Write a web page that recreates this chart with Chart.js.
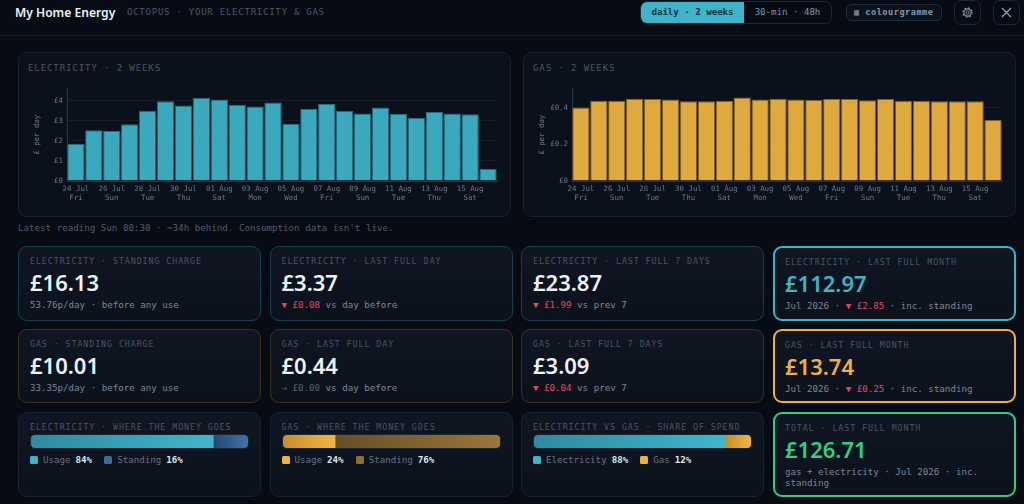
<!DOCTYPE html>
<html>
<head>
<meta charset="utf-8">
<title>My Home Energy</title>
<script src="https://cdn.jsdelivr.net/npm/chart.js@4/dist/chart.umd.min.js"></script>
<style>
* { box-sizing: border-box; }
html, body { margin: 0; width: 1024px; height: 504px; overflow: hidden; background: #070b13; }
body { position: relative; font-family: "DejaVu Sans Mono", monospace; color: #6b7686; }
.abs { position: absolute; white-space: nowrap; }
header { position: absolute; left: 0; top: 0; width: 1024px; height: 36px; border-bottom: 1px solid #141c27; }
.title { left: 15px; top: 3px; font: 600 12.1px/20px "Noto Sans"; color: #eef2f7; }
.subtitle { left: 127px; top: 5px; font-size: 9.2px; line-height: 14px; letter-spacing: .65px; color: #4c5666; }
.seg { left: 640px; top: 1px; width: 192px; height: 23px; border: 1px solid #1c2734; border-radius: 7px; display: flex; overflow: hidden; font-size: 9.1px; line-height: 21px; text-align: center; }
.seg .on { width: 103px; background: #3fb3c8; color: #0a3540; font-weight: 600; }
.seg .off { flex: 1; color: #8a95a5; }
.cg { left: 846px; top: 4px; width: 96px; height: 17px; border: 1px solid #1f2b3a; border-radius: 5px; background: #0c121c; font-size: 8.6px; font-weight: 600; letter-spacing: .5px; line-height: 15px; padding-left: 7px; color: #8a95a5; }
.icon { top: 0; width: 27px; height: 25px; border: 1px solid #1c2734; border-radius: 7px; }
.panel { position: absolute; top: 52px; width: 493px; height: 165px; background: #0b111a; border: 1px solid #18222e; border-radius: 9px; }
.panel h3 { position: absolute; left: 9px; top: 8px; margin: 0; font-weight: 400; font-size: 9.2px; line-height: 14px; letter-spacing: .8px; color: #4a5462; }
.panel .plot { position: absolute; left: 0; top: 27px; width: 491px; height: 136px; }
.note { left: 18px; top: 221px; font-size: 9.18px; line-height: 14px; color: #535c68; }
.card { position: absolute; width: 243px; background: linear-gradient(180deg, #0f1622, #0c121c); border: 1px solid #18222e; border-radius: 9px; padding: 7px 11px; }
.card .k { font-size: 8.3px; letter-spacing: .93px; line-height: 14px; color: #4a5462; white-space: nowrap; }
.card .v { font: 600 22px/28px "Noto Sans"; color: #eef2f7; margin-top: 0; }
.card .s { font-size: 9.17px; line-height: 11px; color: #7b8696; margin-top: 3px; }
.down { color: #e2475c; }
.flat { color: #566172; }
.hl { border-width: 2px; padding: 7px 10px; }
.bar { position: absolute; left: 11px; top: 21px; width: 219px; height: 15px; border: 1px solid #1c2734; border-radius: 5px; overflow: hidden; }
.bar canvas { display: block; }
.lg { position: absolute; left: 11px; top: 40px; font-size: 9.17px; line-height: 14px; color: #667183; display: flex; white-space: nowrap; }
.lg span.i { display: inline-flex; align-items: center; margin-right: 12px; }
.lg b { color: #dfe5ec; margin-left: 5px; }
.lg i { width: 8px; height: 8px; border-radius: 1.5px; margin-right: 5px; display: inline-block; }
</style>
</head>
<body>
<header>
  <div class="abs title">My Home Energy</div>
  <div class="abs subtitle">OCTOPUS · YOUR ELECTRICITY &amp; GAS</div>
  <div class="abs seg"><div class="on">daily · 2 weeks</div><div class="off">30-min · 48h</div></div>
  <div class="abs cg">▦ colourgramme</div>
  <div class="abs icon" style="left:954px">
    <svg width="25" height="23" viewBox="0 0 25 23" fill="none" stroke="#8a95a5"><circle cx="12.5" cy="11.5" r="1.6" stroke-width="1"/><circle cx="12.5" cy="11.5" r="3.6" stroke-width="1.1"/><circle cx="12.5" cy="11.5" r="4.6" stroke-dasharray="1.8 1.8" stroke-width="1.2"/></svg>
  </div>
  <div class="abs icon" style="left:993px">
    <svg width="25" height="23" viewBox="0 0 25 23" fill="none" stroke="#9aa5b3" stroke-width="1.1"><path d="M8 7l9 9M17 7l-9 9"/></svg>
  </div>
</header>

<div class="panel" style="left:18px"><h3>ELECTRICITY · 2 WEEKS</h3><div class="plot"><canvas id="elecChart"></canvas></div></div>
<div class="panel" style="left:523px"><h3>GAS · 2 WEEKS</h3><div class="plot"><canvas id="gasChart"></canvas></div></div>
<div class="abs note">Latest reading Sun 00:30 · ~34h behind. Consumption data isn't live.</div>

<div class="card" style="left:18px;top:246px;height:75px;border-color:#17404c"><div class="k">ELECTRICITY · STANDING CHARGE</div><div class="v">£16.13</div><div class="s">53.76p/day · before any use</div></div>
<div class="card" style="left:269.5px;top:246px;height:75px;border-color:#17404c"><div class="k">ELECTRICITY · LAST FULL DAY</div><div class="v">£3.37</div><div class="s"><span class="down">▼ £0.08</span> vs day before</div></div>
<div class="card" style="left:521px;top:246px;height:75px;border-color:#17404c"><div class="k">ELECTRICITY · LAST FULL 7 DAYS</div><div class="v">£23.87</div><div class="s"><span class="down">▼ £1.99</span> vs prev 7</div></div>
<div class="card hl" style="left:773px;top:246px;height:75px;border-color:#3fb3c8"><div class="k">ELECTRICITY · LAST FULL MONTH</div><div class="v" style="color:#3fb3c8">£112.97</div><div class="s">Jul 2026 · <span class="down">▼ £2.85</span> · inc. standing</div></div>

<div class="card" style="left:18px;top:329px;height:74px;border-color:#3a3020"><div class="k">GAS · STANDING CHARGE</div><div class="v">£10.01</div><div class="s">33.35p/day · before any use</div></div>
<div class="card" style="left:269.5px;top:329px;height:74px;border-color:#3a3020"><div class="k">GAS · LAST FULL DAY</div><div class="v">£0.44</div><div class="s"><span class="flat">→ £0.00</span> vs day before</div></div>
<div class="card" style="left:521px;top:329px;height:74px;border-color:#3a3020"><div class="k">GAS · LAST FULL 7 DAYS</div><div class="v">£3.09</div><div class="s"><span class="down">▼ £0.04</span> vs prev 7</div></div>
<div class="card hl" style="left:773px;top:329px;height:74px;border-color:#f0b03c"><div class="k">GAS · LAST FULL MONTH</div><div class="v" style="color:#f0b03c">£13.74</div><div class="s">Jul 2026 · <span class="down">▼ £0.25</span> · inc. standing</div></div>

<div class="card" style="left:18px;top:412px;height:85px"><div class="k">ELECTRICITY · WHERE THE MONEY GOES</div><div class="bar"><canvas id="elecShare" width="217" height="13"></canvas></div><div class="lg"><span class="i"><i style="background:#3fb3c8"></i>Usage<b>84%</b></span><span class="i"><i style="background:#3a6c9e"></i>Standing<b>16%</b></span></div></div>
<div class="card" style="left:269.5px;top:412px;height:85px"><div class="k">GAS · WHERE THE MONEY GOES</div><div class="bar"><canvas id="gasShare" width="217" height="13"></canvas></div><div class="lg"><span class="i"><i style="background:#f0b03c"></i>Usage<b>24%</b></span><span class="i"><i style="background:#8f6f34"></i>Standing<b>76%</b></span></div></div>
<div class="card" style="left:521px;top:412px;height:85px"><div class="k">ELECTRICITY VS GAS · SHARE OF SPEND</div><div class="bar"><canvas id="splitShare" width="217" height="13"></canvas></div><div class="lg"><span class="i"><i style="background:#3fb3c8"></i>Electricity<b>88%</b></span><span class="i"><i style="background:#f0b03c"></i>Gas<b>12%</b></span></div></div>
<div class="card hl" style="left:773px;top:412px;height:85px;border-color:#2fce84"><div class="k">TOTAL · LAST FULL MONTH</div><div class="v" style="color:#2fd083">£126.71</div><div class="s" style="white-space:normal">gas + electricity · Jul 2026 · inc. standing</div></div>

<script>
// tick labels
const days = ['24 Jul','25 Jul','26 Jul','27 Jul','28 Jul','29 Jul','30 Jul','31 Jul','01 Aug','02 Aug','03 Aug','04 Aug','05 Aug','06 Aug','07 Aug','08 Aug','09 Aug','10 Aug','11 Aug','12 Aug','13 Aug','14 Aug','15 Aug','16 Aug'];
const weekdays = ['Fri','Sat','Sun','Mon','Tue','Wed','Thu','Fri','Sat','Sun','Mon','Tue','Wed','Thu','Fri','Sat','Sun','Mon','Tue','Wed','Thu','Fri','Sat','Sun'];

// £ per day
const elecValues = [1.86,2.53,2.50,2.83,3.51,3.98,3.77,4.16,4.07,3.79,3.72,3.92,2.86,3.60,3.84,3.49,3.37,3.67,3.34,3.14,3.44,3.37,3.33,0.61];
const gasValues = [0.402,0.439,0.439,0.450,0.448,0.445,0.436,0.436,0.439,0.456,0.445,0.450,0.445,0.443,0.448,0.448,0.441,0.448,0.439,0.439,0.436,0.436,0.436,0.334];

// percent splits for the three share bars
const elecShare = [84, 16];
const gasShare = [24, 76];
const splitShare = [88, 12];

const MONO = '"DejaVu Sans Mono", monospace';

function dayChart(id, values, fill, edge, yMax, yStep, fmt) {
  return new Chart(document.getElementById(id), {
    type: 'bar',
    data: {
      labels: days,
      datasets: [{
        data: values,
        backgroundColor: fill,
        borderColor: edge,
        borderWidth: 1,
        categoryPercentage: 1,
        barPercentage: 0.97,
      }]
    },
    options: {
      responsive: true,
      maintainAspectRatio: false,
      animation: false,
      layout: { padding: { left: 14, right: 13, top: 7, bottom: 0 } },
      plugins: { legend: { display: false }, tooltip: { enabled: false } },
      scales: {
        x: {
          afterFit: axis => { axis.height = 35; },
          grid: { display: false, drawTicks: false },
          border: { display: true, color: '#2a3442', width: 1 },
          ticks: {
            autoSkip: false,
            maxRotation: 0,
            minRotation: 0,
            padding: 3,
            color: '#6b7686',
            font: { family: MONO, size: 7.4, lineHeight: 1.25 },
            callback: (v, i) => i % 2 === 0 ? [days[i], weekdays[i]] : null,
          }
        },
        y: {
          min: 0,
          max: yMax,
          afterFit: axis => { axis.width = 34; },
          title: { display: true, text: '£ per day', color: '#6b7686', font: { family: MONO, size: 7.4 }, padding: { top: 0, bottom: 4 } },
          grid: { color: '#141c27', lineWidth: 1, drawTicks: false },
          border: { display: true, color: '#2a3442', width: 1 },
          afterBuildTicks: axis => {
            axis.ticks = axis.ticks.filter(t => t.value <= yMax - yStep / 2);
          },
          ticks: {
            stepSize: yStep,
            padding: 4,
            color: '#6b7686',
            font: { family: MONO, size: 7.4 },
            callback: fmt,
          }
        }
      }
    }
  });
}

dayChart('elecChart', elecValues, '#3aa9be', '#2b6a7a', 4.62, 1, v => '£' + v);
dayChart('gasChart', gasValues, '#e0a93e', '#7a6030', 0.506, 0.2, v => '£' + (v === 0 ? '0' : v.toFixed(1)));

function shareBar(id, values, ramps) {
  return new Chart(document.getElementById(id), {
    type: 'bar',
    data: {
      labels: [''],
      datasets: values.map((v, n) => ({
        data: [v],
        categoryPercentage: 1,
        barPercentage: 1,
        backgroundColor: ctx => {
          const sc = ctx.chart.scales.x;
          const start = values.slice(0, n).reduce((a, b) => a + b, 0);
          const x0 = sc ? sc.getPixelForValue(start) : NaN;
          const x1 = sc ? sc.getPixelForValue(start + v) : NaN;
          if (!Number.isFinite(x0) || !Number.isFinite(x1)) return ramps[n][1];
          const g = ctx.chart.ctx.createLinearGradient(x0, 0, x1, 0);
          g.addColorStop(0, ramps[n][0]);
          g.addColorStop(1, ramps[n][1]);
          return g;
        },
      }))
    },
    options: {
      indexAxis: 'y',
      responsive: false,
      animation: false,
      layout: { padding: 0 },
      plugins: { legend: { display: false }, tooltip: { enabled: false } },
      scales: {
        x: { stacked: true, display: false, min: 0, max: 100 },
        y: { stacked: true, display: false },
      }
    }
  });
}

const tealRamp = ['#2f8a9e', '#40b6cc'];
const blueRamp = ['#27486e', '#3f74a8'];
const amberRamp = ['#c68d2c', '#f2b544'];
const brownRamp = ['#665028', '#99773a'];

shareBar('elecShare', elecShare, [tealRamp, blueRamp]);
shareBar('gasShare', gasShare, [amberRamp, brownRamp]);
shareBar('splitShare', splitShare, [tealRamp, amberRamp]);
</script>
</body>
</html>
